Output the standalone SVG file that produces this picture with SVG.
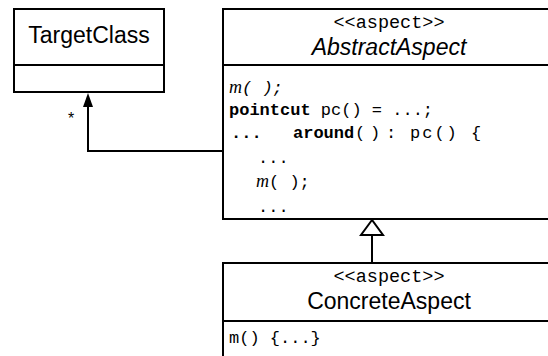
<svg xmlns="http://www.w3.org/2000/svg" width="548" height="356" viewBox="0 0 548 356">
<style>
.box{fill:#fff;stroke:#000;stroke-width:2}
.ln{fill:none;stroke:#000;stroke-width:2}
.sans{font-family:"Liberation Sans",Arial,sans-serif;font-size:23px;fill:#000}
.mono{font-family:"Liberation Mono","Courier New",monospace;font-size:17px;fill:#000;white-space:pre}
.st{font-size:18.5px}
.b{font-weight:bold}
.i{font-style:italic}
.serif{font-family:"Liberation Serif","Times New Roman",serif;font-style:italic;font-size:18px}
</style>
<rect width="548" height="356" fill="#fff"/>
<g id="TargetClass">
<rect class="box" x="14" y="9" width="150" height="83"/>
<line class="ln" x1="14" y1="65" x2="164" y2="65"/>
<text class="sans" x="89" y="43" text-anchor="middle">TargetClass</text>
</g>
<g id="AbstractAspect">
<rect class="box" x="223" y="9" width="333" height="210"/>
<line class="ln" x1="223" y1="65" x2="556" y2="65"/>
<text class="mono st" x="389" y="28" text-anchor="middle">&lt;&lt;aspect&gt;&gt;</text>
<text class="sans i" x="389" y="55" text-anchor="middle">AbstractAspect</text>
<text class="mono i" x="229" y="93" xml:space="preserve"><tspan class="serif">m</tspan>( );</text>
<text class="mono" x="229" y="115" xml:space="preserve"><tspan class="b">pointcut</tspan> pc() = ...;</text>
<text class="mono b" x="231" y="138">...</text>
<text class="mono" x="293" y="138"><tspan class="b">around</tspan><tspan x="355 370 386">():</tspan></text>
<text class="mono" x="410" y="138" xml:space="preserve" style="letter-spacing:2px">pc() {</text>
<text class="mono" x="258" y="163">...</text>
<text class="mono" x="256" y="187" xml:space="preserve"><tspan class="serif">m</tspan>( );</text>
<text class="mono" x="258" y="212">...</text>
</g>
<g id="ConcreteAspect">
<rect class="box" x="223" y="263" width="333" height="110"/>
<line class="ln" x1="223" y1="321" x2="556" y2="321"/>
<text class="mono st" x="389" y="282" text-anchor="middle">&lt;&lt;aspect&gt;&gt;</text>
<text class="sans" x="389" y="309" text-anchor="middle">ConcreteAspect</text>
<text class="mono" x="229" y="343" xml:space="preserve">m() {...}</text>
</g>
<g id="connectors">
<polyline class="ln" points="223,151 88,151 88,104"/>
<polygon points="88,93 83,107 93,107" fill="#000"/>
<text class="sans" x="71" y="124" style="font-size:16px" text-anchor="middle">*</text>
<line class="ln" x1="372" y1="235" x2="372" y2="263"/>
<polygon points="372,220 361,235 383,235" fill="#fff" stroke="#000" stroke-width="2"/>
</g>
</svg>
